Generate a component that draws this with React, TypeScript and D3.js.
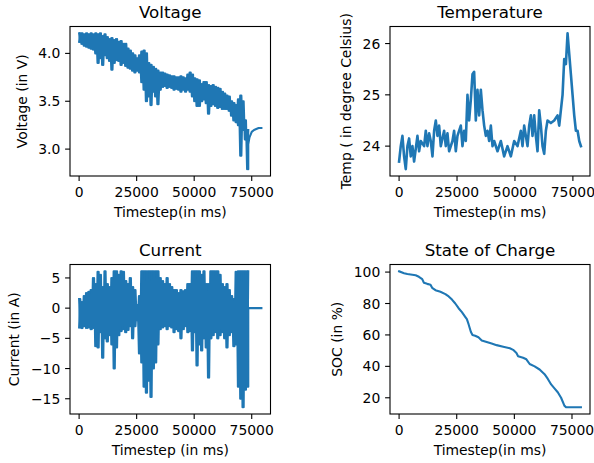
import React from 'react';
import * as d3 from 'd3';

// ---------- data ----------
const bandStep = 1000; // ms between envelope samples
const voltageHigh = [
  4.21, 4.21, 4.2, 4.21, 4.2, 4.21, 4.2, 4.21, 4.2, 4.21,
  4.18, 4.2, 4.17, 4.15, 4.16, 4.14, 4.15, 4.12, 4.13, 4.1,
  4.1, 4.05, 4.03, 4.0, 3.98, 3.95, 3.98, 4.02, 4.03, 4.0,
  3.9, 3.88, 3.86, 3.84, 3.82, 3.8, 3.8, 3.79, 3.78, 3.77,
  3.76, 3.76, 3.75, 3.75, 3.76, 3.75, 3.74, 3.78, 3.8, 3.78,
  3.74, 3.73, 3.72, 3.68, 3.7, 3.7, 3.67, 3.66, 3.67, 3.65,
  3.64, 3.63, 3.6, 3.58, 3.56, 3.55, 3.5, 3.48, 3.46, 3.52,
  3.56, 3.5, 3.3, 3.2,
];
const voltageLow = [
  4.12, 4.1, 4.08, 4.07, 4.06, 4.05, 4.04, 4.0, 3.9, 3.95,
  3.88, 3.98, 3.95, 3.92, 3.83, 3.9, 3.93, 3.92, 3.88, 3.9,
  3.87, 3.85, 3.84, 3.82, 3.8, 3.82, 3.8, 3.7, 3.62, 3.5,
  3.55, 3.46, 3.6, 3.55, 3.47, 3.62, 3.65, 3.66, 3.64, 3.65,
  3.64, 3.62, 3.63, 3.62, 3.6, 3.62, 3.6, 3.62, 3.6, 3.55,
  3.5, 3.45, 3.45, 3.5, 3.52, 3.48, 3.37, 3.45, 3.47, 3.45,
  3.43, 3.44, 3.42, 3.42, 3.42, 3.4, 3.35, 3.3, 3.28, 3.25,
  2.93, 3.2, 3.1, 2.79,
];
const voltageTailX = [73500, 74000, 75000, 76000, 77000, 78000, 79200];
const voltageTailY = [3.05, 3.12, 3.18, 3.2, 3.21, 3.22, 3.22];

const currentHigh = [
  1.5, 1.0, 2.0, 2.5, 2.7, 3.0, 5.0, 4.0, 6.0, 5.5,
  3.5, 6.1, 4.0, 3.5, 5.0, 6.1, 6.1, 5.5, 6.1, 6.0,
  4.5, 4.0, 5.0, 3.5, 3.0, 0.5, 2.0, 6.1, 6.1, 6.1,
  6.1, 6.1, 6.1, 6.1, 6.1, 5.0, 4.5, 4.0, 5.0, 4.0,
  3.5, 3.0, 3.0, 2.5, 3.0, 2.8, 3.0, 4.0, 4.0, 6.1,
  6.1, 6.1, 6.1, 5.5, 6.1, 4.0, 4.0, 6.1, 6.1, 6.1,
  6.1, 5.5, 4.0, 3.5, 4.0, 3.0, 2.0, 1.5, 6.0, 6.1,
  6.1, 6.1, 6.1, 6.1,
];
const currentLow = [
  -3.2, -3.3, -3.0, -3.3, -3.2, -3.5, -3.3, -6.3, -6.5, -4.0,
  -8.2, -5.0, -5.5, -4.5, -6.0, -10.0, -6.5, -4.5, -3.8, -3.5,
  -4.0, -3.6, -3.0, -5.0, -3.0, -2.0, -7.5, -9.0, -13.0, -14.0,
  -12.0, -14.7, -10.0, -9.0, -6.0, -3.5, -3.2, -3.0, -3.5, -3.0,
  -3.2, -4.0, -3.5, -3.8, -5.0, -3.5, -3.0, -4.0, -3.8, -7.0,
  -4.0, -9.5, -6.0, -7.0, -5.0, -6.5, -11.5, -5.0, -4.5, -4.0,
  -5.0, -4.5, -4.0, -5.0, -6.5, -4.5, -4.0, -6.3, -6.0, -13.0,
  -15.0, -16.4, -13.5, -13.0,
];
const currentTailX = [73500, 79200];
const currentTailY = [0, 0];

const tempX = [
  0, 720, 1440, 2160, 2880, 3600, 4320, 5040, 5760, 6480,
  7920, 8640, 9360, 10800, 11520, 12240, 12960, 13680, 14400, 15120,
  15840, 16560, 17270, 17990, 19430, 20150, 20870, 21590, 23030, 23750,
  24470, 25190, 26630, 27350, 28070, 28790, 29510, 30230, 30950, 31670,
  32390, 33110, 33830, 34550, 35270, 35990, 36710, 37430, 38150, 38870,
  39590, 40310, 41030, 42470, 43910, 45340, 46780, 48220, 49660, 51100,
  52540, 53260, 53980, 55420, 56140, 56860, 57580, 58300, 59020, 59740,
  60460, 61180, 61900, 62620, 63340, 64060, 65500, 66940, 68380, 69100,
  69820, 70540, 71260, 71980, 72700, 73420, 74140, 74860, 75580, 76300,
  77020, 77740, 78460,
];
const tempY = [
  23.7, 24.0, 24.2, 23.8, 23.55, 24.0, 24.15, 23.8, 24.0, 23.7,
  24.2, 23.9, 24.1, 24.0, 24.3, 24.0, 24.25, 24.1, 23.8, 24.3,
  24.5, 24.2, 24.4, 24.0, 24.3, 24.0, 24.25, 23.9, 24.1, 24.3,
  23.9, 24.2, 24.4, 24.0, 24.3, 24.1, 25.0, 24.5, 24.9, 25.4,
  25.45, 24.5, 25.1, 24.6, 25.1, 24.7, 24.4, 24.2, 24.3, 24.1,
  24.4, 24.0, 24.1, 23.9, 24.1, 23.8, 24.0, 23.8, 24.1, 24.0,
  24.3, 24.0, 24.4, 24.0, 24.4, 24.6, 24.2, 24.6, 24.2, 23.9,
  24.7, 24.4, 24.0, 23.85, 24.3, 24.5, 24.45, 24.5, 24.6, 24.4,
  24.7, 25.0, 25.7, 25.6, 26.2, 25.8, 25.4, 25.0, 24.6, 24.3,
  24.3, 24.1, 24.0,
];

const socX = [
  0, 2150, 3590, 7170, 8600, 10040, 10760, 12190, 13620, 14340,
  15770, 17930, 20080, 21510, 22940, 24380, 25810, 27250, 28680, 29400,
  30110, 31120, 31830, 32980, 34420, 35850, 38000, 40150, 42300, 45170,
  48040, 49470, 50910, 51620, 53780, 55210, 56640, 58790, 60950, 63100,
  64530, 65960, 67400, 68830, 70270, 71700, 72420, 78870,
];
const socY = [
  100.5, 99.3, 98.8, 98.0, 97.0, 95.5, 93.2, 92.5, 92.0, 90.0,
  88.5, 87.5, 86.0, 84.5, 82.5, 80.0, 77.0, 74.5, 71.5, 70.0,
  67.0, 62.0, 60.0, 59.5, 58.5, 56.5, 55.5, 54.5, 53.5, 52.5,
  51.5, 50.5, 48.5, 46.5, 45.5, 44.5, 41.5, 40.0, 38.0, 35.0,
  32.0, 28.5, 26.0, 23.5, 20.0, 15.0, 14.0, 14.0,
];

const xTicks = [0, 25000, 50000, 75000];
const voltageTicks = [3.0, 3.5, 4.0];
const tempTicks = [24, 25, 26];
const currentTicks = [-15, -10, -5, 0, 5];
const socTicks = [20, 40, 60, 80, 100];

// ---------- helpers ----------
type Pt = [number, number];
// Two interleaved zig-zags between the read upper / lower envelopes give the dense noisy band.
function band(hi: number[], lo: number[], step: number, tx: number[], ty: number[]): Pt[][] {
  const a: Pt[] = [];
  const b: Pt[] = [];
  hi.forEach((h, i) => {
    a.push([i * step, h]);
    a.push([i * step + step / 2, lo[i]]);
    b.push([i * step, lo[i]]);
    b.push([i * step + step / 2, h]);
  });
  const tail = tx.map((x, i) => [x, ty[i]] as Pt);
  return [a.concat(tail), b];
}
function zipPts(xs: number[], ys: number[]): Pt[][] {
  return [xs.map((x, i) => [x, ys[i]] as Pt)];
}
const minus = (s: string) => s.replace('-', '\u2212');

const FONT = 'DejaVu Sans, sans-serif';
const FS = 13.9;
const TITLE_FS = 16.7;
const TICK = 4.9;
const BLUE = '#1f77b4';

type PanelCfg = {
  title: string;
  xlabel: string;
  ylabel: string;
  series: Pt[][];
  yTicks: number[];
  fmt: (v: number) => string;
  left: number;
  top: number;
  w: number;
  h: number;
  ylabelX: number;
  lw: number;
};

function Panel({ c }: { c: PanelCfg }) {
  const all = c.series.flat();
  const xs = all.map((p) => p[0]);
  const ys = all.map((p) => p[1]);
  const [x0, x1] = d3.extent(xs) as [number, number];
  const [y0, y1] = d3.extent(ys) as [number, number];
  const mx = (x1 - x0) * 0.05;
  const my = (y1 - y0) * 0.05;
  const x = d3.scaleLinear().domain([x0 - mx, x1 + mx]).range([c.left, c.left + c.w]);
  const y = d3.scaleLinear().domain([y0 - my, y1 + my]).range([c.top + c.h, c.top]);
  const line = d3
    .line<Pt>()
    .x((p) => x(p[0]))
    .y((p) => y(p[1]));
  const bottom = c.top + c.h;
  const cx = c.left + c.w / 2;
  const cy = c.top + c.h / 2;
  return (
    <g fontFamily={FONT} fill="#000">
      {c.series.map((s, i) => (
        <path key={i} d={line(s) || ''} fill="none" stroke={BLUE} strokeWidth={c.lw} strokeLinejoin="round" strokeLinecap="square" />
      ))}
      <rect x={c.left} y={c.top} width={c.w} height={c.h} fill="none" stroke="#000" strokeWidth={1.1} />
      {xTicks.map((t) => (
        <g key={'x' + t}>
          <line x1={x(t)} x2={x(t)} y1={bottom} y2={bottom + TICK} stroke="#000" strokeWidth={1.1} />
          <text x={x(t)} y={bottom + 20.5} textAnchor="middle" fontSize={FS}>
            {t}
          </text>
        </g>
      ))}
      {c.yTicks.map((t) => (
        <g key={'y' + t}>
          <line x1={c.left - TICK} x2={c.left} y1={y(t)} y2={y(t)} stroke="#000" strokeWidth={1.1} />
          <text x={c.left - 9.7} y={y(t) + 5} textAnchor="end" fontSize={FS}>
            {minus(c.fmt(t))}
          </text>
        </g>
      ))}
      <text x={cx} y={c.top - 8.3} textAnchor="middle" fontSize={TITLE_FS}>
        {c.title}
      </text>
      <text x={cx} y={bottom + 40.5} textAnchor="middle" fontSize={FS}>
        {c.xlabel}
      </text>
      <text
        transform={`translate(${c.ylabelX},${cy}) rotate(-90)`}
        textAnchor="middle"
        fontSize={FS}
      >
        {c.ylabel}
      </text>
    </g>
  );
}

export default function App() {
  const panels: PanelCfg[] = [
    {
      title: 'Voltage',
      xlabel: 'Timestep(in ms)',
      ylabel: 'Voltage (in V)',
      series: band(voltageHigh, voltageLow, bandStep, voltageTailX, voltageTailY),
      yTicks: voltageTicks,
      fmt: (v) => v.toFixed(1),
      left: 70,
      top: 26.5,
      w: 200.5,
      h: 149.5,
      ylabelX: 27,
      lw: 2.1,
    },
    {
      title: 'Temperature',
      xlabel: 'Timestep(in ms)',
      ylabel: 'Temp ( in degree Celsius)',
      series: zipPts(tempX, tempY),
      yTicks: tempTicks,
      fmt: (v) => String(v),
      left: 390,
      top: 26.5,
      w: 200,
      h: 149.5,
      ylabelX: 350.5,
      lw: 2.6,
    },
    {
      title: 'Current',
      xlabel: 'Timestep (in ms)',
      ylabel: 'Current (in A)',
      series: band(currentHigh, currentLow, bandStep, currentTailX, currentTailY),
      yTicks: currentTicks,
      fmt: (v) => String(v),
      left: 70,
      top: 264.5,
      w: 200.5,
      h: 149.5,
      ylabelX: 18.5,
      lw: 2.1,
    },
    {
      title: 'State of Charge',
      xlabel: 'Timestep(in ms)',
      ylabel: 'SOC (in %)',
      series: zipPts(socX, socY),
      yTicks: socTicks,
      fmt: (v) => String(v),
      left: 390,
      top: 264.5,
      w: 200,
      h: 149.5,
      ylabelX: 342,
      lw: 2.1,
    },
  ];
  return (
    <svg
      width={594}
      height={463}
      viewBox="0 0 594 463"
      style={{ position: 'absolute', left: 0, top: 0, display: 'block', background: '#fff' }}
    >
      <rect width={594} height={463} fill="#fff" />
      {panels.map((p) => (
        <Panel key={p.title} c={p} />
      ))}
    </svg>
  );
}
